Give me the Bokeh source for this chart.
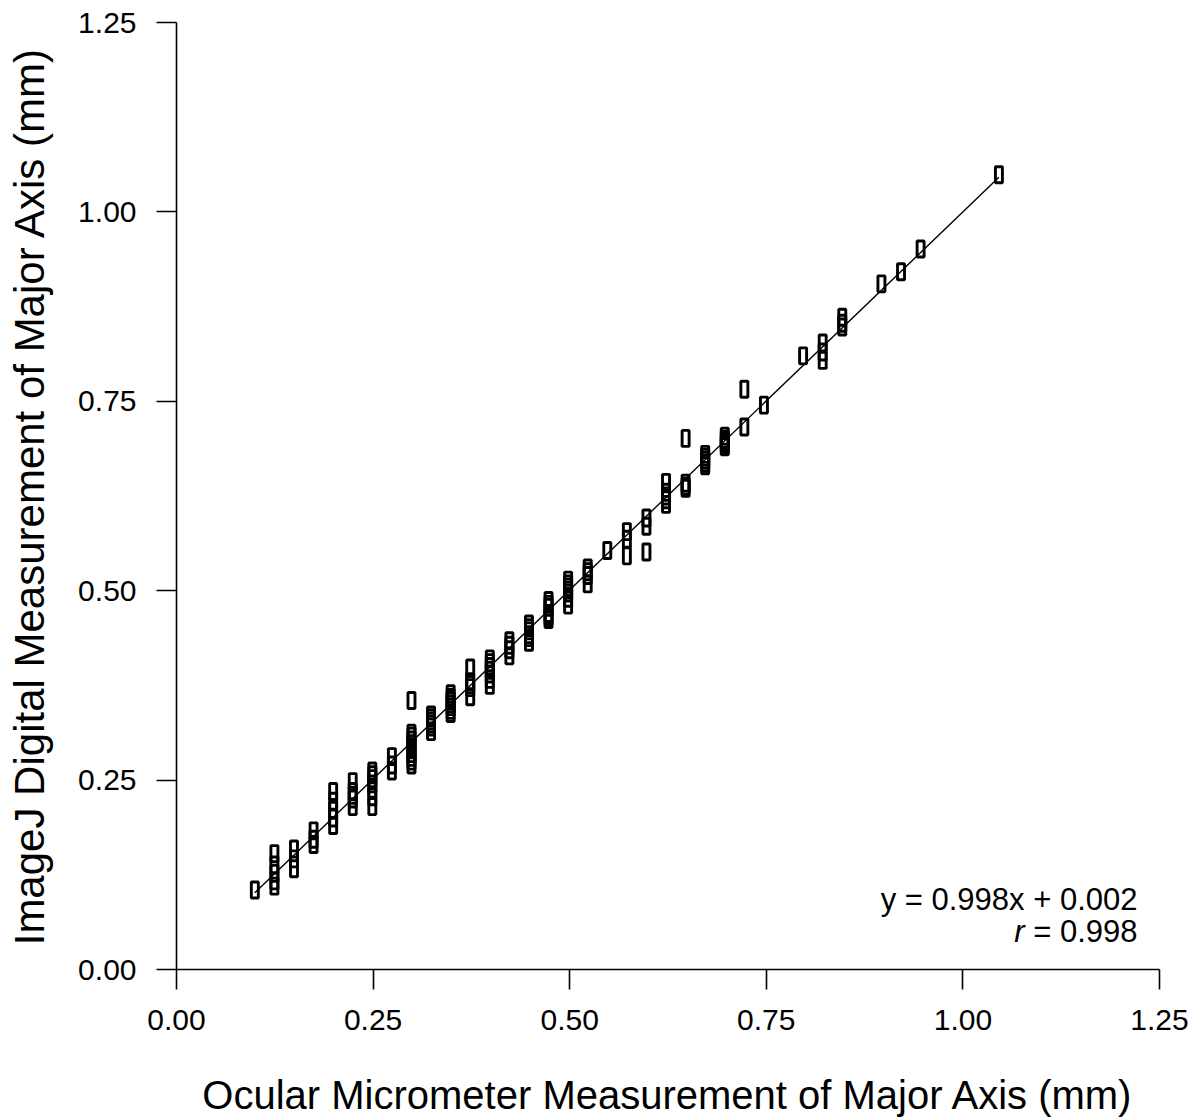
from bokeh.plotting import figure
from bokeh.models import (ColumnDataSource, Range1d, FixedTicker,
                          PrintfTickFormatter, Label)
from bokeh.embed import file_html
from bokeh.resources import INLINE

# Ocular micrometer readings (mm), one entry per column of repeated measurements
ocular_mm = [0.0996, 0.1245, 0.1494, 0.1743, 0.1992, 0.2241, 0.2490, 0.2739,
             0.2988, 0.3237, 0.3486, 0.3735, 0.3984, 0.4233, 0.4482, 0.4731,
             0.4980, 0.5229, 0.5478, 0.5727, 0.5976, 0.6225, 0.6474, 0.6723,
             0.6972, 0.7221, 0.7470, 0.7968, 0.8217, 0.8466, 0.8964, 0.9213,
             0.9462, 1.0458]

# ImageJ digital measurements (mm) taken for each ocular reading
imagej_mm = [
    [0.105],
    [0.153, 0.138, 0.127, 0.117, 0.110],
    [0.159, 0.146, 0.133],
    [0.183, 0.172, 0.165],
    [0.235, 0.222, 0.210, 0.200, 0.190],
    [0.248, 0.235, 0.230, 0.225, 0.215],
    [0.262, 0.257, 0.252, 0.245, 0.238, 0.228, 0.215],
    [0.281, 0.270, 0.262],
    [0.355, 0.312, 0.308, 0.303, 0.298, 0.294, 0.290, 0.285, 0.280, 0.275, 0.270],
    [0.336, 0.332, 0.328, 0.324, 0.320, 0.314],
    [0.364, 0.359, 0.355, 0.351, 0.347, 0.342, 0.338],
    [0.398, 0.380, 0.376, 0.372, 0.360],
    [0.410, 0.405, 0.400, 0.395, 0.390, 0.383, 0.375],
    [0.434, 0.428, 0.422, 0.414],
    [0.456, 0.451, 0.447, 0.442, 0.438, 0.432],
    [0.487, 0.482, 0.478, 0.470, 0.466, 0.462],
    [0.514, 0.509, 0.505, 0.501, 0.497, 0.490, 0.481],
    [0.530, 0.525, 0.520, 0.509],
    [0.553],
    [0.578, 0.568, 0.546],
    [0.596, 0.585, 0.551],
    [0.643, 0.630, 0.625, 0.620, 0.614],
    [0.701, 0.642, 0.638, 0.635],
    [0.680, 0.676, 0.672, 0.668, 0.665],
    [0.704, 0.700, 0.697, 0.693, 0.690],
    [0.766, 0.716],
    [0.745],
    [0.810],
    [0.827, 0.815, 0.804],
    [0.861, 0.853, 0.848],
    [0.905],
    [0.921],
    [0.951],
    [1.049],
]

# Regression reported on the chart
slope = 0.998
intercept = 0.002
r_value = 0.998

tick_values = [0.0, 0.25, 0.5, 0.75, 1.0, 1.25]

xs, ys = [], []
for xv, group in zip(ocular_mm, imagej_mm):
    for yv in group:
        xs.append(xv)
        ys.append(yv)
points = ColumnDataSource(data=dict(x=xs, y=ys))

x_fit = [min(ocular_mm), max(ocular_mm)]
fit = ColumnDataSource(data=dict(x=x_fit, y=[slope * v + intercept for v in x_fit]))

FONT = "Liberation Sans"

p = figure(width=1199, height=1119, output_backend="svg", toolbar_location=None,
           x_range=Range1d(0, 1.25), y_range=Range1d(0, 1.25),
           min_border_left=176, min_border_right=40,
           min_border_top=22, min_border_bottom=150,
           frame_width=983, frame_height=947)
p.outline_line_color = None
p.xgrid.visible = False
p.ygrid.visible = False
p.background_fill_color = "white"
p.border_fill_color = "white"

p.line("x", "y", source=fit, line_color="black", line_width=1.4)
p.rect("x", "y", width=7, height=16, width_units="screen", height_units="screen",
       source=points, fill_color=None, line_color="black", line_width=2.9)

for ax in (p.xaxis[0], p.yaxis[0]):
    ax.ticker = FixedTicker(ticks=tick_values)
    ax.formatter = PrintfTickFormatter(format="%.2f")
    ax.major_tick_out = 20
    ax.major_tick_in = 0
    ax.minor_tick_out = 0
    ax.minor_tick_in = 0
    ax.axis_line_width = 1.6
    ax.major_tick_line_width = 1.6
    ax.axis_line_color = "black"
    ax.major_tick_line_color = "black"
    ax.major_label_text_font = FONT
    ax.major_label_text_font_size = "30px"
    ax.major_label_text_color = "black"
    ax.major_label_standoff = 20
    ax.axis_label_text_font = FONT
    ax.axis_label_text_font_style = "normal"
    ax.axis_label_text_color = "black"

p.xaxis.axis_label = "Ocular Micrometer Measurement of Major Axis (mm)"
p.yaxis.axis_label = "ImageJ Digital Measurement of Major Axis (mm)"
p.xaxis.axis_label_text_font_size = "40px"
p.yaxis.axis_label_text_font_size = "42px"
p.xaxis.axis_label_standoff = 40
p.yaxis.axis_label_standoff = 22

# Regression annotation, right-aligned in the lower right corner
ann_fs = 31
ann_x = 1.222
p.add_layout(Label(x=ann_x, y=0.093, text=f"y = {slope}x + {intercept:.3f}",
                   text_align="right", text_baseline="alphabetic",
                   text_font=FONT, text_font_size=f"{ann_fs}px", text_color="black"))
p.add_layout(Label(x=ann_x, y=0.050, text=f"= {r_value}",
                   text_align="right", text_baseline="alphabetic",
                   text_font=FONT, text_font_size=f"{ann_fs}px", text_color="black"))
p.add_layout(Label(x=ann_x, y=0.050, text="r", x_offset=-3.64 * ann_fs,
                   text_align="right", text_baseline="alphabetic",
                   text_font=FONT, text_font_style="italic",
                   text_font_size=f"{ann_fs}px", text_color="black"))

open("out.html", "w").write(file_html(p, INLINE))
